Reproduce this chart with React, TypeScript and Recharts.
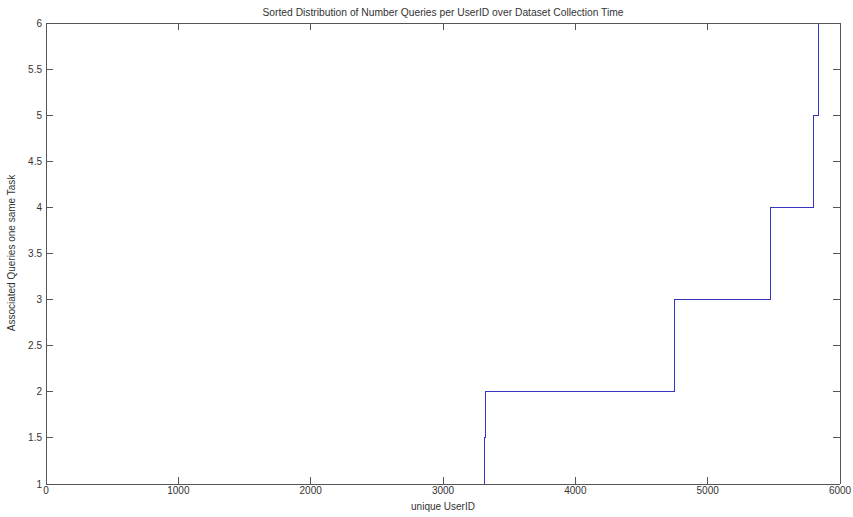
import { Label, Line, LineChart, ReferenceLine, XAxis, YAxis } from "recharts";

// sorted query counts: value steps up at these user ids
const userIds = [3312, 3312, 3323, 4746, 5476, 5798, 5841];
const queryCounts = [1, 1.5, 2, 3, 4, 5, 6];
const xTicks = [0, 1000, 2000, 3000, 4000, 5000, 6000];
const yTicks = [1, 1.5, 2, 2.5, 3, 3.5, 4, 4.5, 5, 5.5, 6];

const data = userIds.map((userId, i) => ({ userId, count: queryCounts[i] }));

const W = 853;
const H = 517;
const TOP_H = 23;
const BOTTOM_H = 33;
const LEFT_W = 46;
const RIGHT_W = 13;
const TICK = 7;
const X_MIN = 0;
const X_MAX = 6000;
const Y_MIN = 1;
const Y_MAX = 6;
// tick length expressed in data units, for the mirrored ticks on top/right
const xTickLen = (TICK * (X_MAX - X_MIN)) / (W - LEFT_W - RIGHT_W);
const yTickLen = (TICK * (Y_MAX - Y_MIN)) / (H - TOP_H - BOTTOM_H);

const font = "'Liberation Sans', Arial, sans-serif";
const axisColor = "#555";
const textColor = "#333";
const textStyle = { fill: textColor, fontSize: 10, fontFamily: font };

export default function App() {
  return (
    <div style={{ position: "absolute", left: 0, top: 0, background: "#fff" }}>
      <LineChart
        width={W}
        height={H}
        data={data}
        margin={{ top: 0, right: 0, bottom: 0, left: 0 }}
        style={{ shapeRendering: "crispEdges" }}
      >
        <XAxis
          xAxisId="bottom"
          dataKey="userId"
          type="number"
          domain={[X_MIN, X_MAX]}
          ticks={xTicks}
          interval={0}
          allowDataOverflow
          height={BOTTOM_H}
          tickSize={-TICK}
          tickMargin={10}
          stroke={axisColor}
          tick={textStyle}
        >
          <Label value="unique UserID" position="insideBottom" offset={7} style={textStyle} />
        </XAxis>
        <XAxis
          xAxisId="top"
          orientation="top"
          type="number"
          domain={[X_MIN, X_MAX]}
          allowDataOverflow
          height={TOP_H}
          tickLine={false}
          stroke={axisColor}
          tick={false}
        >
          <Label
            content={() => (
              <text
                x={443}
                y={16}
                textAnchor="middle"
                textLength={361}
                lengthAdjust="spacingAndGlyphs"
                style={textStyle}
              >
                Sorted Distribution of Number Queries per UserID over Dataset Collection Time
              </text>
            )}
          />
        </XAxis>
        <YAxis
          yAxisId="left"
          type="number"
          domain={[Y_MIN, Y_MAX]}
          ticks={yTicks}
          interval={0}
          allowDataOverflow
          width={LEFT_W}
          tickSize={-TICK}
          tickMargin={11}
          stroke={axisColor}
          tick={textStyle}
        >
          <Label
            content={() => (
              <text x={15} y={253} transform="rotate(-90 15 253)" textAnchor="middle" style={textStyle}>
                Associated Queries one same Task
              </text>
            )}
          />
        </YAxis>
        <YAxis
          yAxisId="right"
          orientation="right"
          type="number"
          domain={[Y_MIN, Y_MAX]}
          allowDataOverflow
          width={RIGHT_W}
          tickLine={false}
          stroke={axisColor}
          tick={false}
        />
        {/* mirrored inward ticks on the top and right edges of the box */}
        {xTicks.map((t) => (
          <ReferenceLine
            key={"tx" + t}
            xAxisId="bottom"
            yAxisId="left"
            segment={[
              { x: t, y: Y_MAX },
              { x: t, y: Y_MAX - yTickLen },
            ]}
            stroke={axisColor}
            ifOverflow="visible"
          />
        ))}
        {yTicks.map((t) => (
          <ReferenceLine
            key={"ty" + t}
            xAxisId="bottom"
            yAxisId="left"
            segment={[
              { x: X_MAX, y: t },
              { x: X_MAX - xTickLen, y: t },
            ]}
            stroke={axisColor}
            ifOverflow="visible"
          />
        ))}
        <Line
          xAxisId="bottom"
          yAxisId="left"
          type="stepAfter"
          dataKey="count"
          stroke="#3535c4"
          strokeWidth={1}
          dot={false}
          isAnimationActive={false}
        />
      </LineChart>
    </div>
  );
}
